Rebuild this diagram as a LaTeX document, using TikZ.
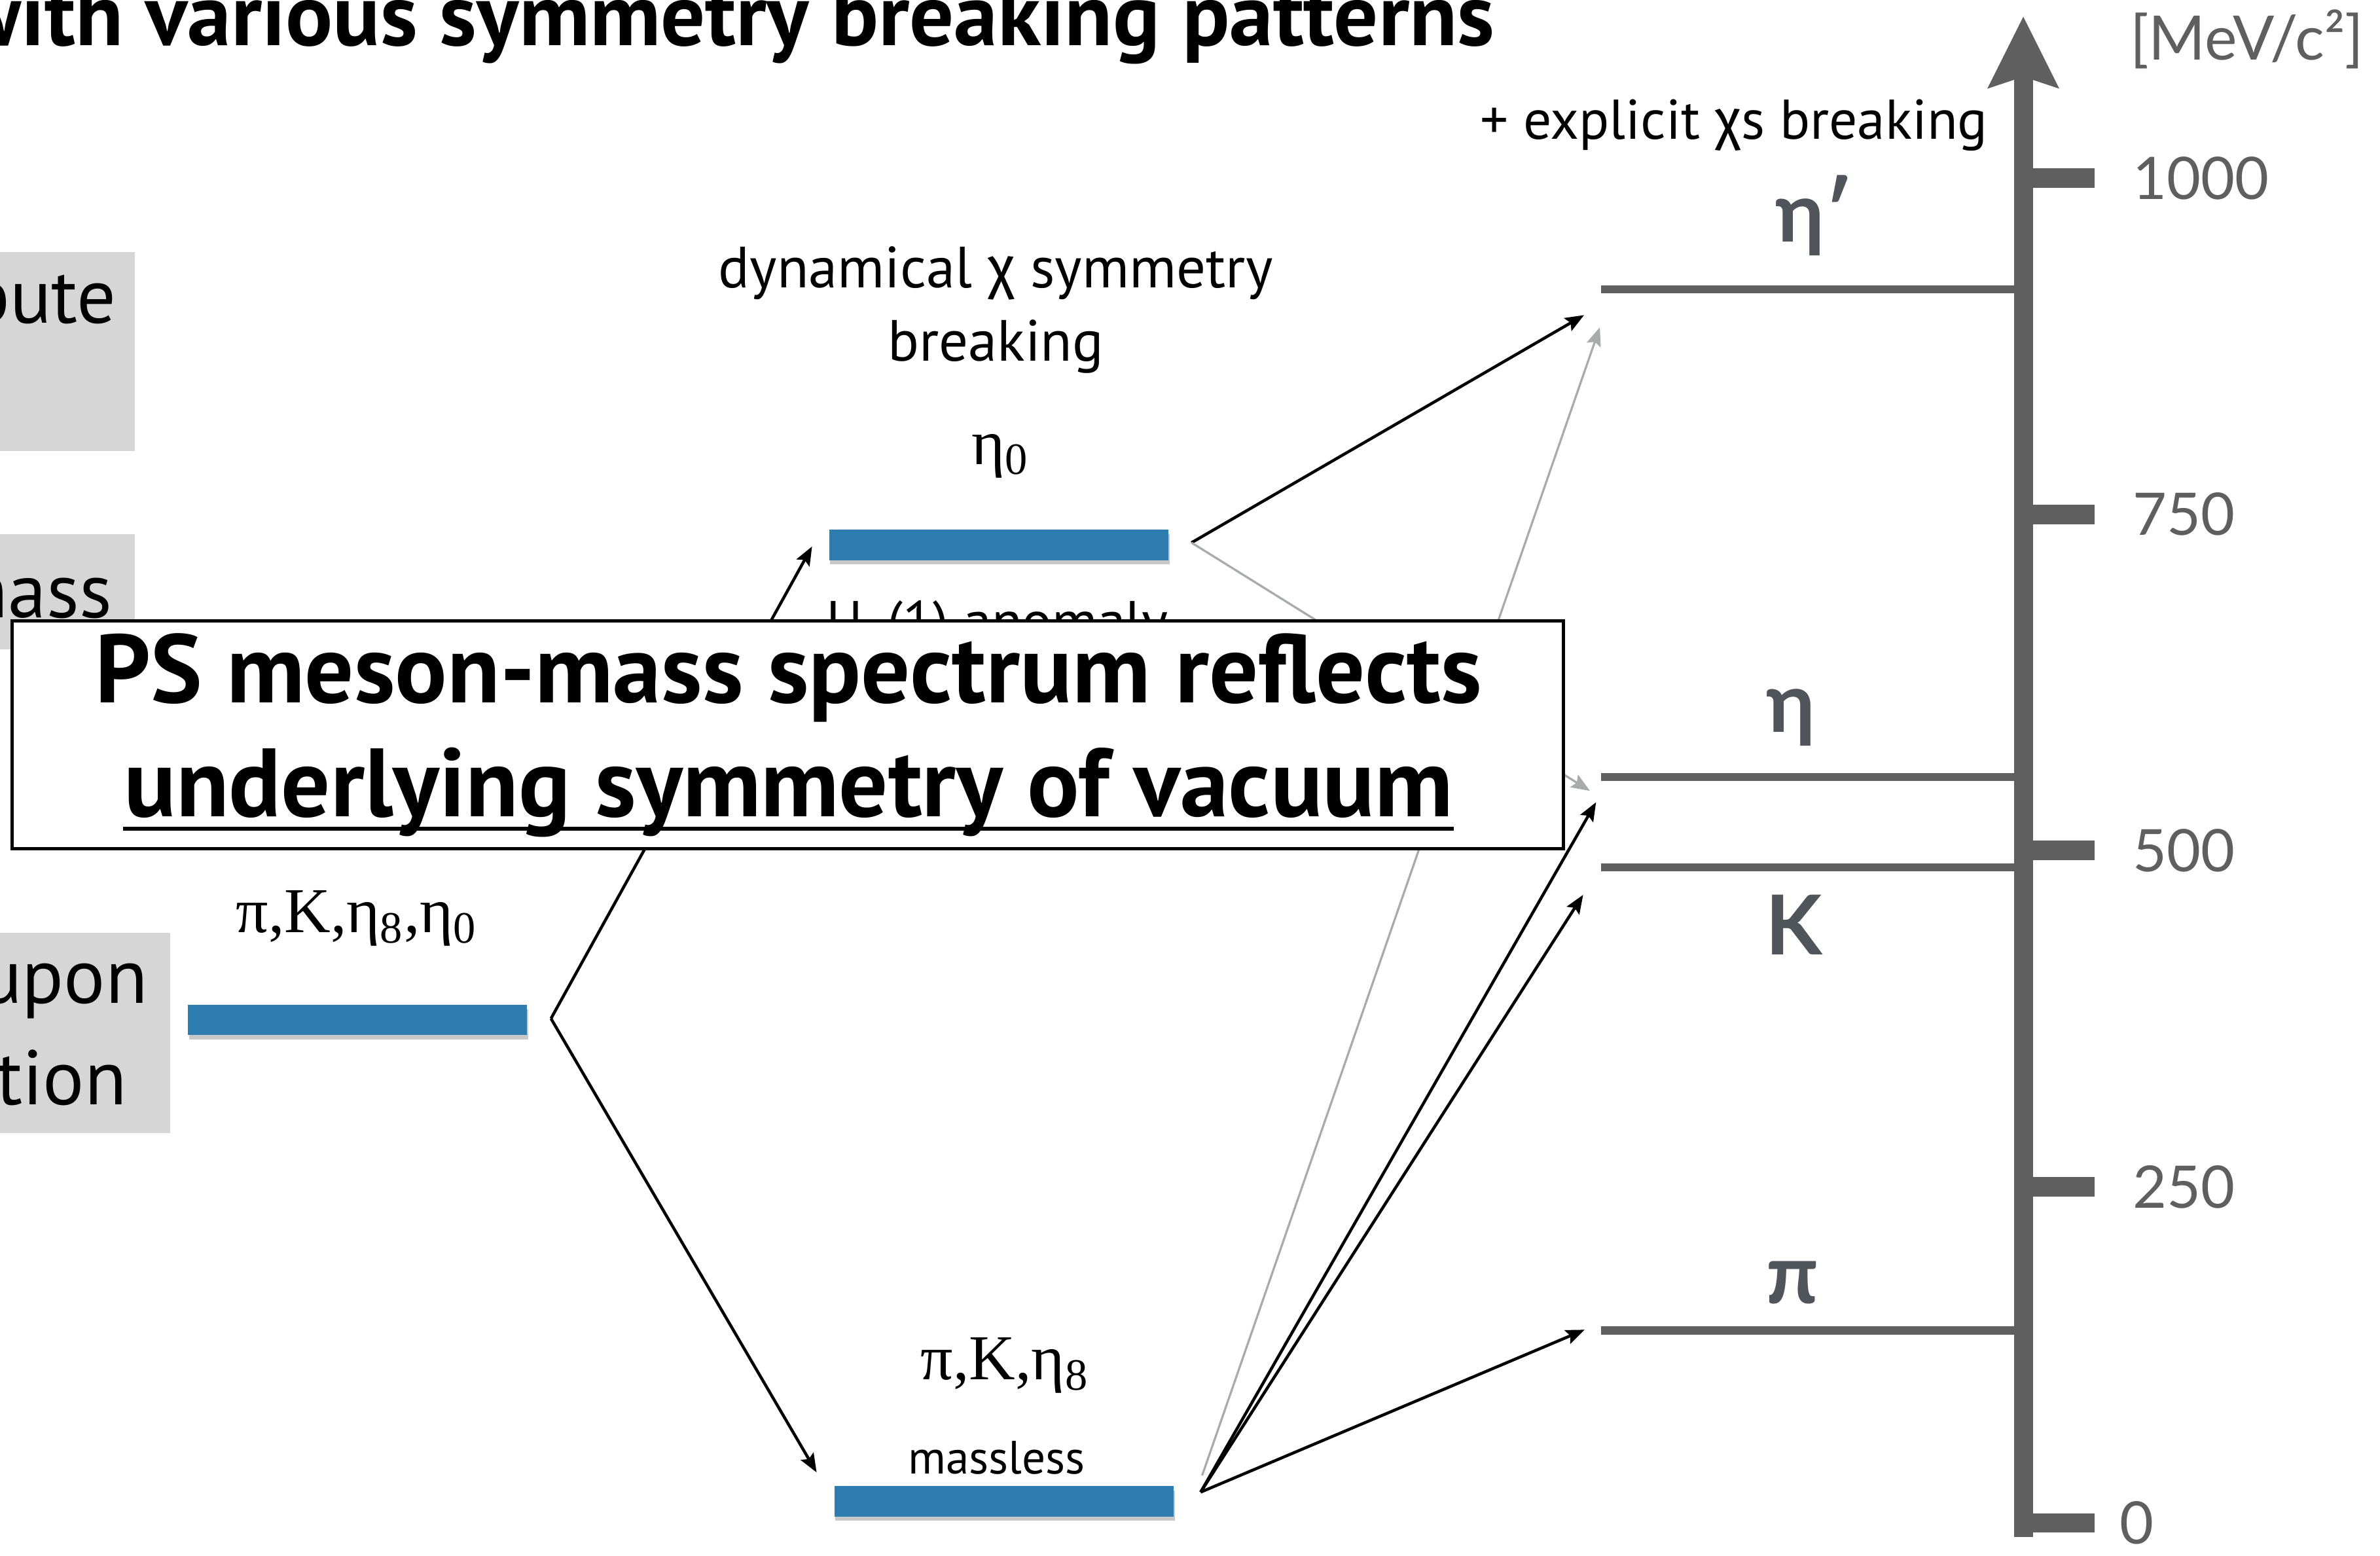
\documentclass[tikz,border=0pt]{standalone}
\usepackage{fontspec}
\setmainfont{PT Sans}
\newfontfamily\greekfont{Fira Sans}
\newfontfamily\seriffont{Liberation Serif}
\newfontfamily\levelfont{Lato}
\usetikzlibrary{arrows.meta,shadows}
\usepackage{xcolor}
\definecolor{barblue}{HTML}{2E7DB1}
\definecolor{axisgray}{HTML}{5F5F5F}
\definecolor{boxgray}{HTML}{D6D6D6}
\definecolor{arrowgray}{HTML}{A9ABAB}
\definecolor{labelgray}{HTML}{50555C}
\tikzset{
  graybox/.style={fill=boxgray, draw=none},
  sidetext/.style={font=\fontsize{29}{34}\selectfont, inner sep=0pt, anchor=base east},
  bar/.style={fill=barblue, minimum width=44.7mm, minimum height=4mm, inner sep=0pt,
    drop shadow={shadow xshift=0.4pt, shadow yshift=-1.6pt, opacity=0.3, fill=black!70}},
  note/.style={font=\fontsize{21}{25}\selectfont, inner sep=0pt, anchor=base},
  mesons/.style={font=\seriffont\fontsize{24}{28}\selectfont, inner sep=0pt, anchor=base},
  arrow/.style={-{Stealth[length=7pt,width=5.5pt,inset=1.2pt]}, line width=1.1pt, draw=black},
  greyarrow/.style={arrow, draw=arrowgray, line width=0.8pt},
  masslevel/.style={line width=3pt, draw=axisgray},
  levellabel/.style={font=\levelfont\bfseries\fontsize{31}{36}\selectfont, text=labelgray, inner sep=0pt, anchor=base},
  massaxis/.style={line width=7.1pt, draw=axisgray, -{Stealth[length=27pt,width=27pt,inset=4.5pt,line width=0pt]}},
  tickmark/.style={line width=7.3pt, draw=axisgray},
  ticklabel/.style={font=\levelfont\fontsize{22}{26}\selectfont, text=axisgray, inner sep=0pt, anchor=west},
  msgbox/.style={draw=black, line width=1.3pt, fill=white, minimum width=204.4mm, minimum height=30mm, inner sep=0pt},
  msgtext/.style={font=\bfseries\fontsize{36.4}{42}\selectfont, inner sep=0pt, anchor=base}
}
\begin{document}
\begin{tikzpicture}[x=0.2mm, y=-0.2mm]
  \useasboundingbox (0,0) rectangle (1568,1025);
  \clip (0,0) rectangle (1568,1025);
  \fill[white] (0,0) rectangle (1568,1025);

  % cut-off side panels
  \fill[graybox] (-5,166) rectangle (89,297);
  \fill[graybox] (-5,352) rectangle (89,428);
  \fill[graybox] (-5,614.5) rectangle (112,746.5);
  \node[sidetext] (side1) at (77,213) {bute};
  \node[sidetext] (side2) at (74,407) {mass};
  \node[sidetext] (side3) at (97.7,661) {upon};
  \node[sidetext] (side4) at (84,727.6) {tion};

  \node[font=\bfseries\fontsize{33}{38}\selectfont, inner sep=0pt, anchor=base east] (title) at (985,30) {with various symmetry breaking patterns};

  % mass scale
  \coordinate (axbot) at (1333,1012.5);
  \coordinate (axtop) at (1333,11);
  \draw[massaxis] (axbot) -- (axtop);
  \foreach \val/\y/\lx in {0/1003.3/1396, 250/781.8/1405, 500/560.3/1405, 750/338.8/1405, 1000/117.3/1405} {
    \draw[tickmark] (1333,\y) -- (1380,\y);
    \node[ticklabel] (tick\val) at (\lx,\y) {\val};
  }
  \node[font=\levelfont\fontsize{23}{27}\selectfont, text=axisgray, inner sep=0pt, anchor=base west] (unit) at (1403,39.5) {[MeV/c²]};

  % physical levels
  \draw[masslevel] (1055,190.7) -- (1333,190.7);
  \draw[masslevel] (1055,512) -- (1333,512);
  \draw[masslevel] (1055,571.5) -- (1333,571.5);
  \draw[masslevel] (1055,876.5) -- (1333,876.5);
  \node[levellabel] (letap) at (1195,159.4) {η′};
  \node[levellabel] (leta) at (1180,482.3) {η};
  \node[levellabel] (lkaon) at (1182,628.8) {K};
  \node[levellabel] (lpion) at (1181,859) {π};

  % bars
  \node[bar] (barA) at (235.5,672) {};
  \node[bar] (barB) at (658,359) {};
  \node[bar] (barC) at (661.5,989) {};
  \node[mesons] (labA) at (235,614.5) {π,K,η\textsubscript{8},η\textsubscript{0}};
  \node[mesons] (labB) at (659,306) {η\textsubscript{0}};
  \node[mesons] (labC) at (662,909) {π,K,η\textsubscript{8}};
  \node[note, font=\fontsize{21.8}{25}\selectfont] (dyn1) at (656,189.4) {dynamical {\greekfont χ} symmetry};
  \node[note, font=\fontsize{21.8}{25}\selectfont] (dyn2) at (656,238) {breaking};
  \node[note, anchor=base east] (expl) at (1310,91.5) {+ explicit {\greekfont χ}s breaking};
  \node[note, font=\fontsize{17.5}{21}\selectfont] (mless) at (656.5,971) {massless};
  \node[note] (anom) at (657,422) {U\textsubscript{A}(1) anomaly};

  % splittings
  \coordinate (vA) at (363,671);
  \coordinate (vB) at (785,357.5);
  \coordinate (vC) at (791,983);
  \coordinate (vCg) at (792,972);
  \coordinate (tB) at (535,360);
  \coordinate (tC) at (538,970);
  \coordinate (tEtapB) at (1043.6,207.6);
  \coordinate (tEtaB) at (1047.5,521);
  \coordinate (tEtapC) at (1054,215.6);
  \coordinate (tEtaC) at (1051.5,528.5);
  \coordinate (tKaon) at (1043,589.5);
  \coordinate (tPion) at (1044,876);
  \draw[arrow] (vA) -- (tB);
  \draw[arrow] (vA) -- (tC);
  \draw[arrow] (vB) -- (tEtapB);
  \draw[greyarrow] (vB) -- (tEtaB);
  \draw[greyarrow] (vCg) -- (tEtapC);
  \draw[arrow] (vC) -- (tEtaC);
  \draw[arrow] (vC) -- (tKaon);
  \draw[arrow] (vC) -- (tPion);

  % message box on top
  \node[msgbox] (msg) at (519,484) {};
  \node[msgtext] (msg1) at (519.5,463) {PS meson-mass spectrum reflects};
  \node[msgtext] (msg2) at (519.5,538) {underlying symmetry of vacuum};
  \draw[line width=1.4pt] ([yshift=-4.6pt]msg2.base west) -- ([yshift=-4.6pt]msg2.base east);
\end{tikzpicture}
\end{document}
